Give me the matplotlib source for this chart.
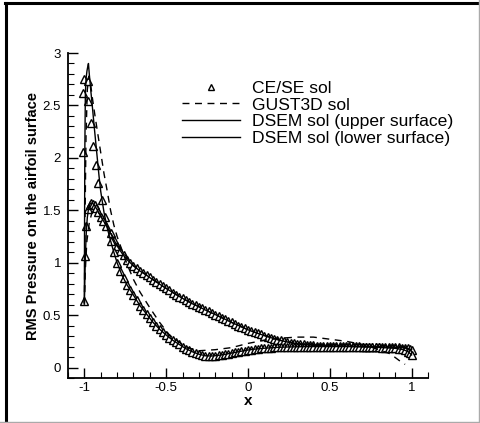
import matplotlib
matplotlib.use("Agg")
import matplotlib.pyplot as plt
from matplotlib.lines import Line2D
from matplotlib.ticker import MultipleLocator

plt.rcParams['font.family'] = ['Liberation Sans', 'DejaVu Sans']

# DSEM solution, surface with the sharp leading-edge peak
dsem_up_x = [-1.0, -0.999, -0.997, -0.994, -0.99, -0.984, -0.978, -0.975, -0.97, -0.96,
             -0.95, -0.94, -0.93, -0.92, -0.91, -0.9, -0.88, -0.86, -0.84, -0.82,
             -0.80, -0.77, -0.74, -0.70, -0.66, -0.62, -0.58, -0.54, -0.50, -0.46,
             -0.42, -0.38, -0.34, -0.30, -0.26, -0.22, -0.18, -0.14, -0.10, -0.05,
             0.0, 0.05, 0.1, 0.2, 0.3, 0.4, 0.5, 0.6, 0.7, 0.8, 0.9, 0.95, 0.98, 1.0]
dsem_up_y = [0.62, 1.3, 2.1, 2.6, 2.75, 2.83, 2.88, 2.9, 2.8, 2.63,
             2.47, 2.3, 2.14, 1.98, 1.82, 1.68, 1.48, 1.33, 1.21, 1.10,
             1.00, 0.88, 0.79, 0.69, 0.59, 0.51, 0.43, 0.365, 0.31, 0.26,
             0.22, 0.18, 0.15, 0.127, 0.112, 0.11, 0.116, 0.126, 0.138, 0.153,
             0.167, 0.177, 0.184, 0.194, 0.198, 0.2, 0.2, 0.2, 0.197, 0.192, 0.183, 0.17, 0.15, 0.12]

# DSEM solution, other surface
dsem_lo_x = [-1.0, -0.997, -0.993, -0.988, -0.982, -0.975, -0.965, -0.955, -0.945, -0.935,
             -0.92, -0.9, -0.88, -0.86, -0.84, -0.82, -0.80, -0.77, -0.74, -0.70,
             -0.66, -0.62, -0.58, -0.54, -0.50, -0.45, -0.40, -0.35, -0.30, -0.25,
             -0.20, -0.15, -0.10, -0.05, 0.0, 0.05, 0.1, 0.15, 0.2, 0.25,
             0.3, 0.4, 0.5, 0.6, 0.7, 0.8, 0.9, 0.95, 0.98, 1.0]
dsem_lo_y = [0.62, 0.85, 1.1, 1.3, 1.43, 1.51, 1.56, 1.57, 1.56, 1.54,
             1.5, 1.44, 1.39, 1.34, 1.28, 1.22, 1.16, 1.09, 1.03, 0.97,
             0.92, 0.88, 0.835, 0.795, 0.755, 0.705, 0.66, 0.615, 0.58, 0.54,
             0.505, 0.468, 0.43, 0.395, 0.36, 0.33, 0.305, 0.28, 0.258, 0.24,
             0.227, 0.213, 0.205, 0.203, 0.2, 0.198, 0.193, 0.188, 0.18, 0.17]

# GUST3D solution
gust_a_x = [-1.0, -0.996, -0.99, -0.982, -0.972, -0.96, -0.95, -0.934, -0.92, -0.904,
            -0.88, -0.86, -0.84, -0.82, -0.8, -0.77, -0.74, -0.7, -0.66, -0.6,
            -0.54, -0.48, -0.42, -0.37, -0.3, -0.2, -0.1, 0.0, 0.1, 0.2,
            0.3, 0.4, 0.5, 0.6, 0.7, 0.8, 0.87, 0.93, 0.96]
gust_a_y = [0.6, 1.4, 2.2, 2.65, 2.78, 2.68, 2.56, 2.39, 2.25, 2.09,
            1.85, 1.68, 1.5, 1.36, 1.25, 1.12, 0.99, 0.84, 0.72, 0.57,
            0.43, 0.31, 0.24, 0.19, 0.16, 0.17, 0.19, 0.23, 0.26, 0.28,
            0.29, 0.29, 0.27, 0.25, 0.22, 0.17, 0.13, 0.06, 0.03]
gust_b_x = [-1.0, -0.995, -0.985, -0.97, -0.955, -0.94, -0.92, -0.9, -0.88, -0.85,
            -0.8, -0.7, -0.6, -0.5, -0.4, -0.3, -0.2, -0.1, 0.0, 0.1,
            0.2, 0.3, 0.4, 0.6, 0.8, 0.9]
gust_b_y = [0.6, 0.9, 1.2, 1.38, 1.47, 1.5, 1.49, 1.45, 1.39, 1.32,
            1.17, 0.97, 0.86, 0.755, 0.66, 0.58, 0.505, 0.43, 0.36, 0.305,
            0.258, 0.227, 0.213, 0.203, 0.198, 0.193]

# CE/SE solution (triangles)
cese_le_x = [-1.0, -1.006, -1.006, -1.0, -0.979, -0.975, -0.961, -0.949, -0.93, -0.914,
             -0.893, -0.873, -0.997, -0.988, -0.978, -0.968, -0.958, -0.948, -0.938, -0.928,
             -0.915, -0.9, -0.885, -0.87]
cese_le_y = [0.63, 2.06, 2.62, 2.75, 2.73, 2.54, 2.33, 2.11, 1.93, 1.76,
             1.60, 1.44, 1.06, 1.35, 1.51, 1.55, 1.57, 1.56, 1.55, 1.52,
             1.48, 1.44, 1.40, 1.35]
cese_x = [-0.84, -0.82, -0.80, -0.78, -0.76, -0.74, -0.72, -0.70, -0.68, -0.66,
          -0.64, -0.62, -0.60, -0.58, -0.56, -0.54, -0.52, -0.50, -0.48, -0.46,
          -0.44, -0.42, -0.40, -0.38, -0.36, -0.34, -0.32, -0.30, -0.28, -0.26,
          -0.24, -0.22, -0.20, -0.18, -0.16, -0.14, -0.12, -0.10, -0.08, -0.06,
          -0.04, -0.02, 0.00, 0.02, 0.04, 0.06, 0.08, 0.10, 0.12, 0.14,
          0.16, 0.18, 0.20, 0.22, 0.24, 0.26, 0.28, 0.30, 0.32, 0.34,
          0.36, 0.38, 0.40, 0.42, 0.44, 0.46, 0.48, 0.50, 0.52, 0.54,
          0.56, 0.58, 0.60, 0.62, 0.64, 0.66, 0.68, 0.70, 0.72, 0.74,
          0.76, 0.78, 0.80, 0.82, 0.84, 0.86, 0.88, 0.90, 0.92, 0.94,
          0.96, 0.98, 0.99, 1.0]
cese_up_y = [1.28, 1.22, 1.16, 1.11, 1.07, 1.03, 1.00, 0.97, 0.95, 0.92,
             0.90, 0.88, 0.86, 0.835, 0.815, 0.795, 0.775, 0.755, 0.735, 0.715,
             0.695, 0.675, 0.66, 0.645, 0.625, 0.61, 0.595, 0.58, 0.565, 0.55,
             0.535, 0.52, 0.505, 0.49, 0.475, 0.46, 0.445, 0.43, 0.415, 0.40,
             0.39, 0.375, 0.36, 0.35, 0.34, 0.325, 0.315, 0.305, 0.295, 0.285,
             0.275, 0.265, 0.258, 0.25, 0.243, 0.237, 0.232, 0.227, 0.224, 0.22,
             0.218, 0.215, 0.213, 0.21, 0.208, 0.207, 0.206, 0.205, 0.205, 0.205,
             0.204, 0.204, 0.203, 0.203, 0.202, 0.202, 0.201, 0.2, 0.2, 0.2,
             0.2, 0.2, 0.2, 0.2, 0.2, 0.198, 0.197, 0.195, 0.193, 0.19,
             0.188, 0.185, 0.18, 0.17]
cese_lo_y = [1.21, 1.10, 1.00, 0.92, 0.85, 0.79, 0.74, 0.69, 0.64, 0.59,
             0.55, 0.51, 0.47, 0.43, 0.395, 0.365, 0.335, 0.31, 0.285, 0.26,
             0.24, 0.22, 0.2, 0.18, 0.165, 0.15, 0.137, 0.127, 0.118, 0.112,
             0.11, 0.11, 0.112, 0.116, 0.12, 0.126, 0.132, 0.138, 0.145, 0.15,
             0.156, 0.162, 0.167, 0.171, 0.175, 0.178, 0.182, 0.184, 0.187, 0.189,
             0.191, 0.193, 0.194, 0.195, 0.196, 0.197, 0.198, 0.198, 0.199, 0.2,
             0.2, 0.2, 0.2, 0.2, 0.2, 0.2, 0.2, 0.2, 0.2, 0.2,
             0.2, 0.2, 0.2, 0.2, 0.199, 0.198, 0.198, 0.197, 0.196, 0.195,
             0.194, 0.193, 0.192, 0.19, 0.188, 0.186, 0.184, 0.183, 0.18, 0.176,
             0.17, 0.15, 0.14, 0.12]

fig = plt.figure(figsize=(4.81, 4.23), dpi=100)
ax = fig.add_axes([68 / 481, 45 / 423, 360 / 481, 325 / 423])

tri = dict(marker='^', markersize=5.5, markerfacecolor='white', markeredgecolor='black',
           markeredgewidth=1.0, linestyle='none')
ax.plot(cese_le_x, cese_le_y, **tri)
ax.plot(cese_x, cese_up_y, **tri)
ax.plot(cese_x, cese_lo_y, **tri)

ax.plot(gust_a_x, gust_a_y, color='black', lw=1.0, dashes=(5, 4))
ax.plot(gust_b_x, gust_b_y, color='black', lw=1.0, dashes=(5, 4))
ax.plot(dsem_up_x, dsem_up_y, color='black', lw=1.0)
ax.plot(dsem_lo_x, dsem_lo_y, color='black', lw=1.0)

ax.set_xlim(-1.1, 1.1)
ax.set_ylim(-0.1, 3.0)
ax.spines['top'].set_visible(False)
ax.spines['right'].set_visible(False)
ax.spines['left'].set_linewidth(1.3)
ax.spines['bottom'].set_linewidth(1.3)
ax.xaxis.set_minor_locator(MultipleLocator(0.1))
ax.yaxis.set_minor_locator(MultipleLocator(0.1))
ax.set_xticks([-1, -0.5, 0, 0.5, 1])
ax.set_xticklabels(['-1', '-0.5', '0', '0.5', '1'])
ax.set_yticks([0, 0.5, 1, 1.5, 2, 2.5, 3])
ax.set_yticklabels(['0', '0.5', '1', '1.5', '2', '2.5', '3'])
ax.tick_params(which='major', direction='in', length=7, width=1, labelsize=9.5)
ax.tick_params(axis='x', which='major', pad=3)
ax.tick_params(axis='y', which='major', pad=5)
ax.tick_params(which='minor', direction='in', length=4, width=0.8)
ax.set_xlabel('x', fontsize=11, fontweight='bold', labelpad=0)
ax.set_ylabel('RMS Pressure on the airfoil surface', fontsize=10.5, fontweight='bold', labelpad=2)

handles = [
    Line2D([], [], **{**tri, 'markersize': 5}),
    Line2D([], [], color='black', lw=1.0, dashes=(5, 4)),
    Line2D([], [], color='black', lw=1.0),
    Line2D([], [], color='black', lw=1.0),
]
labels = ['CE/SE sol', 'GUST3D sol', 'DSEM sol (upper surface)', 'DSEM sol (lower surface)']
ax.legend(handles, labels, loc='upper left', bbox_to_anchor=(0.317, 0.915), frameon=False,
          fontsize=12.6, handlelength=3.3, handletextpad=0.7, labelspacing=0.08,
          borderpad=0, borderaxespad=0)

# figure frame
fig.add_artist(Line2D([6 / 481, 6 / 481], [0, 420 / 423], color='black', lw=2.2))
fig.add_artist(Line2D([5 / 481, 1], [420 / 423, 420 / 423], color='black', lw=2.2))
fig.add_artist(Line2D([479 / 481, 479 / 481], [0, 1], color='#aaaaaa', lw=1))
fig.add_artist(Line2D([0, 1], [1 / 423, 1 / 423], color='#aaaaaa', lw=1))

fig.savefig('out.png', dpi=100)
